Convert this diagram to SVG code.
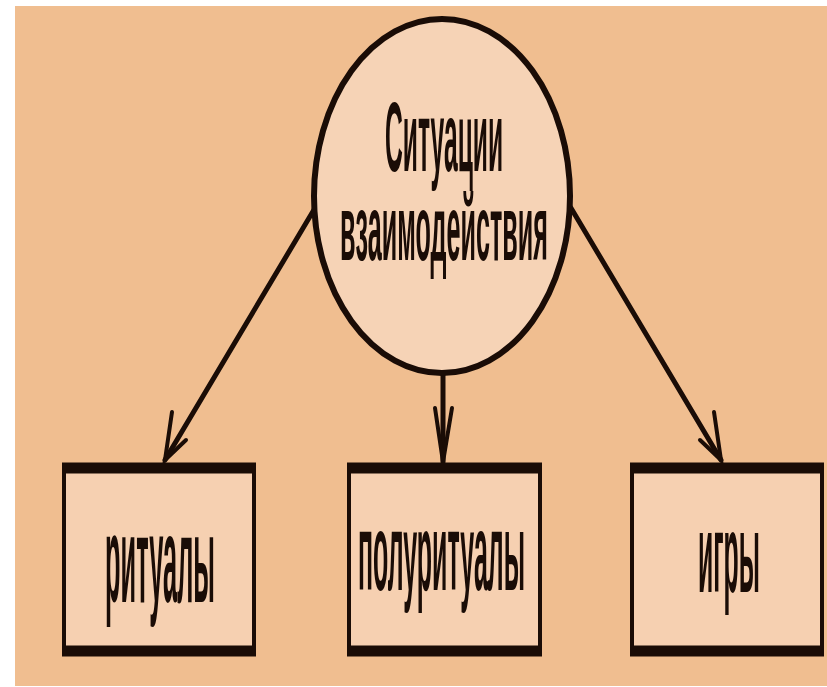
<svg xmlns="http://www.w3.org/2000/svg" width="827" height="687" viewBox="0 0 827 687">
  <defs>
    <style>
      .ln { stroke: #1a0c06; stroke-width: 5; fill: none; stroke-linecap: round; }
      .head { stroke: #1a0c06; stroke-width: 4; fill: none; stroke-linejoin: miter; stroke-linecap: round; }
      .box { fill: #F6D0B1; stroke: #1a0c06; stroke-width: 4; }
      .bar { stroke: #1a0c06; stroke-width: 11; }
      .lbl { font-family: "Liberation Sans", Arial, sans-serif; font-weight: bold; fill: #1a0c06; }
    </style>
  </defs>
  <rect x="0" y="0" width="827" height="687" fill="#ffffff"/>
  <rect x="15" y="6" width="812" height="680" fill="#F0BE90"/>

  <g id="connectors">
    <line class="ln" x1="315" y1="208" x2="165" y2="460"/>
    <polyline class="head" points="172,412 165,460 186,440"/>
    <line class="ln" x1="443" y1="373" x2="443" y2="462"/>
    <polyline class="head" points="435,408 443,462 452,408"/>
    <line class="ln" x1="571" y1="208" x2="721" y2="460"/>
    <polyline class="head" points="714,412 721,460 700,440"/>
  </g>

  <g id="center">
    <ellipse cx="442" cy="196" rx="128" ry="177" fill="#F6D3B6" stroke="#1a0c06" stroke-width="6"/>
    <text class="lbl" transform="translate(385,171) scale(0.242,1)" font-size="98" textLength="488" lengthAdjust="spacingAndGlyphs">Ситуации</text>
    <text class="lbl" transform="translate(340,260) scale(0.266,1)" font-size="92" textLength="782" lengthAdjust="spacingAndGlyphs">взаимодействия</text>
  </g>

  <g id="rituals">
    <rect class="box" x="64" y="466" width="190" height="186"/>
    <line class="bar" x1="62" y1="468" x2="256" y2="468"/>
    <line class="bar" x1="62" y1="651" x2="256" y2="651"/>
    <text class="lbl" transform="translate(105,602) scale(0.206,1)" font-size="122" textLength="534" lengthAdjust="spacingAndGlyphs">ритуалы</text>
  </g>

  <g id="semirituals">
    <rect class="box" x="349" y="466" width="191" height="186"/>
    <line class="bar" x1="347" y1="468" x2="542" y2="468"/>
    <line class="bar" x1="347" y1="651" x2="542" y2="651"/>
    <text class="lbl" transform="translate(358,590) scale(0.223,1)" font-size="110" textLength="749" lengthAdjust="spacingAndGlyphs">полуритуалы</text>
  </g>

  <g id="games">
    <rect class="box" x="632" y="466" width="190" height="186"/>
    <line class="bar" x1="630" y1="468" x2="824" y2="468"/>
    <line class="bar" x1="630" y1="651" x2="824" y2="651"/>
    <text class="lbl" transform="translate(698,592) scale(0.226,1)" font-size="112" textLength="274" lengthAdjust="spacingAndGlyphs">игры</text>
  </g>
</svg>
